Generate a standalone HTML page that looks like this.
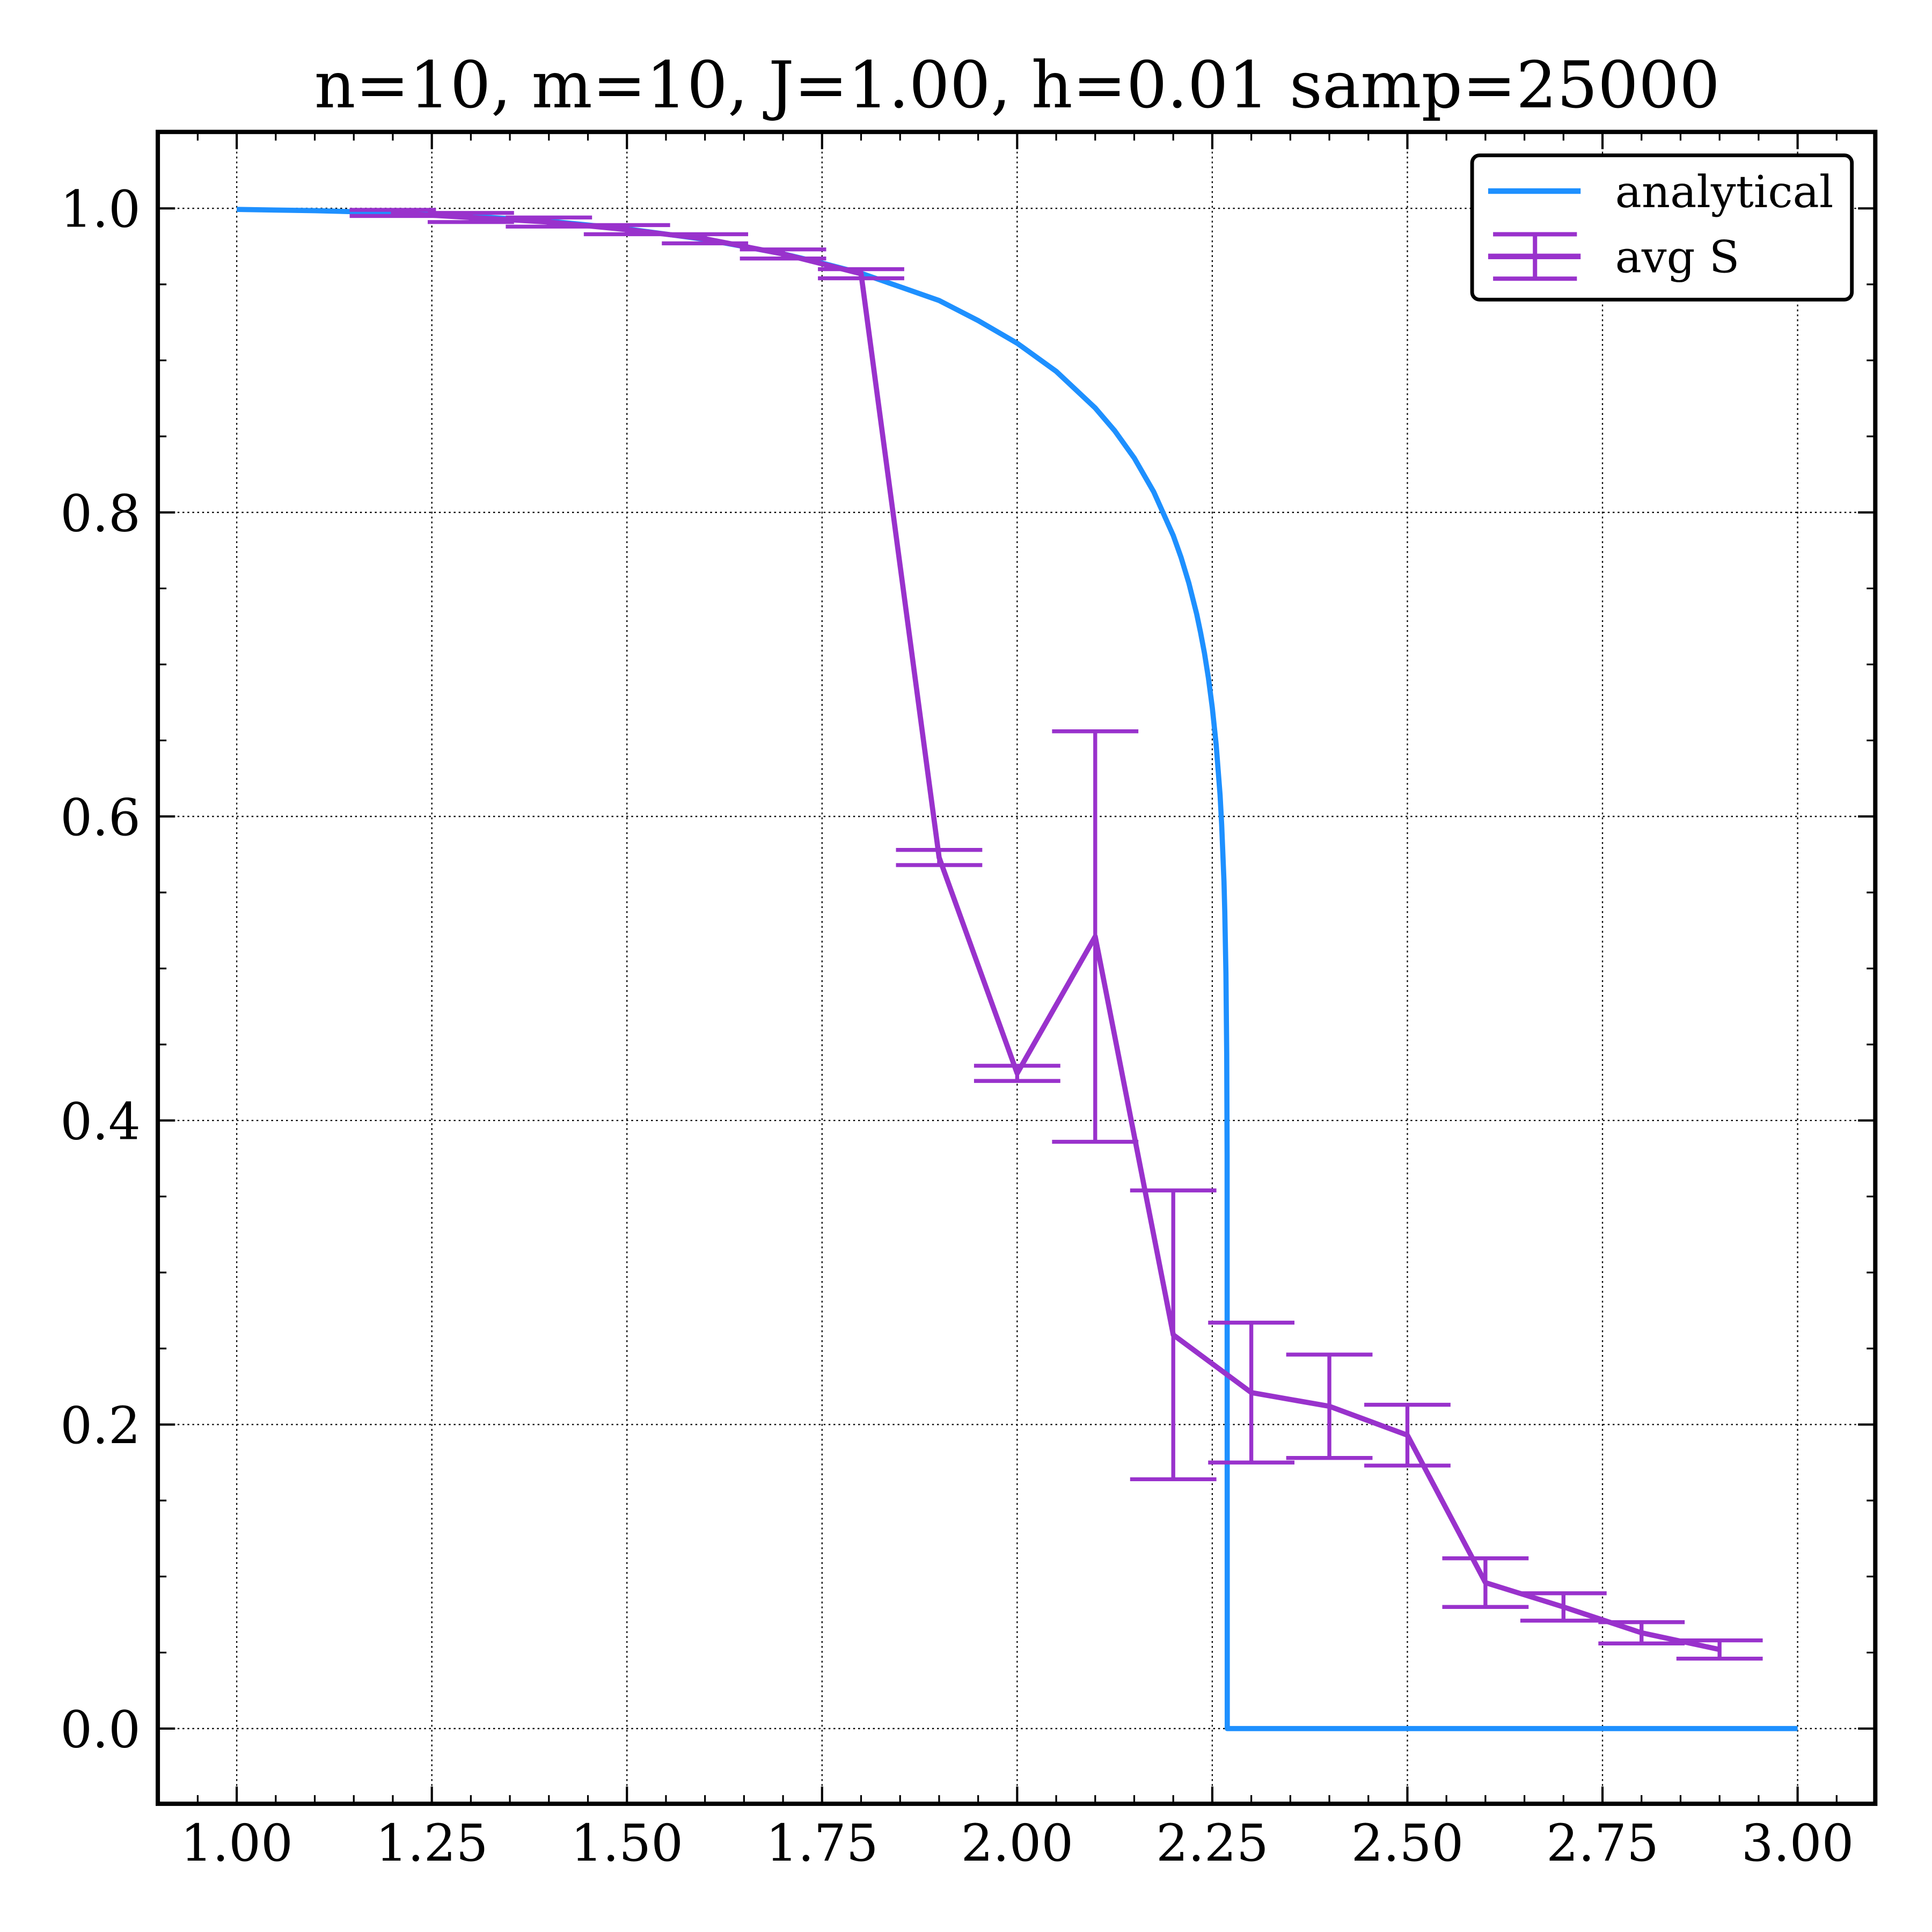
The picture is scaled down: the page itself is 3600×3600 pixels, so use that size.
<!DOCTYPE html>
<html>
<head>
<meta charset="utf-8">
<style>
html,body{margin:0;padding:0;background:#fff;}
svg{display:block;}
text{font-family:"DejaVu Serif","Liberation Serif",serif;fill:#000;}
</style>
</head>
<body>
<svg id="chart" width="3600" height="3600" viewBox="0 0 1567 1567" xmlns="http://www.w3.org/2000/svg">
  <rect x="0" y="0" width="1567" height="1567" fill="#fff"/>
  <text x="825" y="87" font-size="52" text-anchor="middle">n=10, m=10, J=1.00, h=0.01 samp=25000</text>
  <g id="grid"></g>
  <g id="series"></g>
  <g id="ticks"></g>
  <rect x="128" y="107" width="1393" height="1356" fill="none" stroke="#000" stroke-width="3.5"/>
  <g id="legend">
    <rect x="1194" y="126" width="308" height="117" rx="6" fill="#fff" stroke="#000" stroke-width="3"/>
    <line x1="1207" y1="155" x2="1282" y2="155" stroke="#1e90ff" stroke-width="4.5"/>
    <text x="1310" y="168" font-size="36">analytical</text>
    <g stroke="#9932cc" stroke-width="3.5">
      <line x1="1207" y1="208" x2="1282" y2="208" stroke-width="4.5"/>
      <line x1="1245" y1="190" x2="1245" y2="226"/>
      <line x1="1211" y1="190" x2="1279" y2="190"/>
      <line x1="1211" y1="226" x2="1279" y2="226"/>
    </g>
    <text x="1310" y="221" font-size="36">avg S</text>
  </g>
</svg>
<script>
// ---- data ----
const simT = [1.2,1.3,1.4,1.5,1.6,1.7,1.8,1.9,2.0,2.1,2.2,2.3,2.4,2.5,2.6,2.7,2.8,2.9];
const simS = [0.997,0.994,0.991,0.986,0.980,0.970,0.957,0.573,0.431,0.521,0.259,0.221,0.212,0.193,0.096,0.080,0.063,0.052];
const simErr = [0.002,0.003,0.003,0.003,0.003,0.003,0.003,0.005,0.005,0.135,0.095,0.046,0.034,0.020,0.016,0.009,0.007,0.006];
const anaT = [1.0,1.1,1.2,1.3,1.4,1.5,1.6,1.7,1.75,1.8,1.85,1.9,1.95,2.0,2.05,2.1,2.125,2.15,2.175,2.2,2.21,2.22,2.23,2.235,2.24,2.245,2.25,2.255,2.26,2.262,2.265,2.266,2.2675,2.2685,2.269,2.2692,3.0];
const anaS = [0.9993,0.9985,0.9971,0.9948,0.9916,0.9865,0.9796,0.9701,0.9640,0.9573,0.9484,0.9394,0.9262,0.9113,0.8928,0.8687,0.8537,0.8358,0.8135,0.7848,0.7704,0.7535,0.7332,0.7210,0.7074,0.6912,0.6717,0.6472,0.614,0.5949,0.557,0.5376,0.4966,0.4438,0.377,0.0,0.0];
const xTicks = [1.00,1.25,1.50,1.75,2.00,2.25,2.50,2.75,3.00];
const xTickLabels = ["1.00","1.25","1.50","1.75","2.00","2.25","2.50","2.75","3.00"];
const yTicks = [0.0,0.2,0.4,0.6,0.8,1.0];
const yTickLabels = ["0.0","0.2","0.4","0.6","0.8","1.0"];

// ---- axes ----
const X0=192, XS=633, Y0=1402, YS=1233;
const L=128, R=1521, T=107, B=1463;
function sx(v){return X0+(v-1)*XS;}
function sy(v){return Y0-v*YS;}
const NS="http://www.w3.org/2000/svg";
function mk(tag, attrs, parent){
  const e=document.createElementNS(NS,tag);
  for(const k in attrs) e.setAttribute(k,attrs[k]);
  parent.appendChild(e); return e;
}
const grid=document.getElementById('grid');
const ticks=document.getElementById('ticks');
const series=document.getElementById('series');

xTicks.forEach((v,i)=>{
  const x=sx(v);
  const g=mk('line',{x1:x,y1:T,x2:x,y2:B,stroke:'#000','stroke-width':1,'stroke-dasharray':'1.5,2.5'},grid);
  
  
  const t1=mk('line',{x1:x,y1:B,x2:x,y2:B-14,stroke:'#000','stroke-width':1.8},ticks);
  
  
  const t2=mk('line',{x1:x,y1:T,x2:x,y2:T+14,stroke:'#000','stroke-width':1.8},ticks);
  
  
  const lb=mk('text',{x:x,y:1509,'font-size':41,'text-anchor':'middle'},ticks);
  lb.textContent=xTickLabels[i];
  
  
});
yTicks.forEach((v,i)=>{
  const y=sy(v);
  const g=mk('line',{x1:L,y1:y,x2:R,y2:y,stroke:'#000','stroke-width':1,'stroke-dasharray':'1.5,2.5'},grid);
  
  
  const t1=mk('line',{x1:L,y1:y,x2:L+14,y2:y,stroke:'#000','stroke-width':1.8},ticks);
  
  
  const t2=mk('line',{x1:R,y1:y,x2:R-14,y2:y,stroke:'#000','stroke-width':1.8},ticks);
  
  
  const lb=mk('text',{x:114,y:y+15,'font-size':41,'text-anchor':'end'},ticks);
  lb.textContent=yTickLabels[i];
  
  
});
for(let k=-1;k<=41;k++){
  if(k%5===0) continue;
  const x=sx(1+k*0.05);
  if(x<=L||x>=R) continue;
  const a=mk('line',{x1:x,y1:B,x2:x,y2:B-7,stroke:'#000','stroke-width':1.4},ticks);
  
  
  const b=mk('line',{x1:x,y1:T,x2:x,y2:T+7,stroke:'#000','stroke-width':1.4},ticks);
  
  
}
for(let k=-1;k<=21;k++){
  if(k%4===0) continue;
  const y=sy(k*0.05);
  if(y<=T||y>=B) continue;
  const a=mk('line',{x1:L,y1:y,x2:L+7,y2:y,stroke:'#000','stroke-width':1.4},ticks);
  
  
  const b=mk('line',{x1:R,y1:y,x2:R-7,y2:y,stroke:'#000','stroke-width':1.4},ticks);
  
  
}

const ap=anaT.map((t,i)=>sx(t).toFixed(2)+','+sy(anaS[i]).toFixed(2)).join(' ');
const al=mk('polyline',{points:ap,fill:'none',stroke:'#1e90ff','stroke-width':4.2,'stroke-linejoin':'round'},series);



const sp=simT.map((t,i)=>sx(t).toFixed(2)+','+sy(simS[i]).toFixed(2)).join(' ');
const sl=mk('polyline',{points:sp,fill:'none',stroke:'#9932cc','stroke-width':4.2,'stroke-linejoin':'round'},series);



simT.forEach((t,i)=>{
  const x=sx(t), yt=sy(simS[i]+simErr[i]), yb=sy(simS[i]-simErr[i]);
  const g=mk('g',{stroke:'#9932cc','stroke-width':3.2},series);
  
  
  mk('line',{x1:x,y1:yt,x2:x,y2:yb},g);
  mk('line',{x1:x-35,y1:yt,x2:x+35,y2:yt},g);
  mk('line',{x1:x-35,y1:yb,x2:x+35,y2:yb},g);
});
</script>
</body>
</html>
